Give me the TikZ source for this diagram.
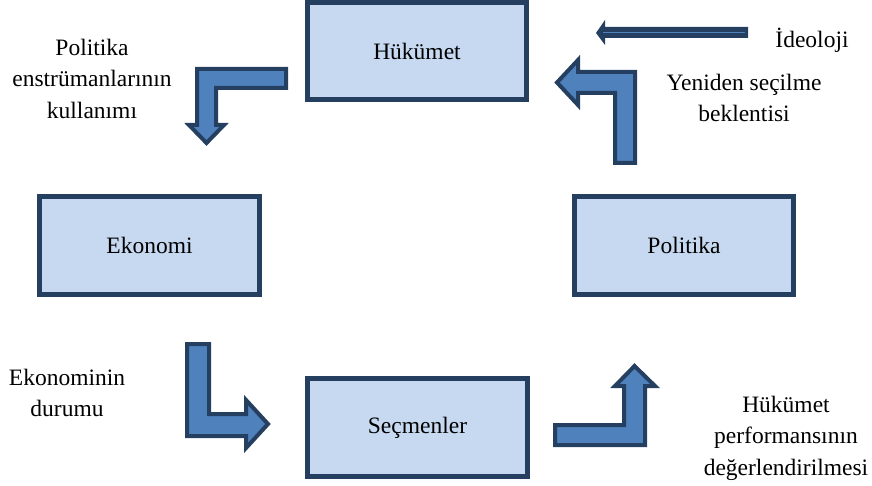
\documentclass[tikz,border=0pt]{standalone}
\usepackage{fontspec}
\setmainfont{Liberation Serif}
\newfontfamily\timesface{Liberation Serif}
\usepackage{tikz}
\usetikzlibrary{positioning, calc}
\definecolor{boxfill}{HTML}{C6D9F1}
\definecolor{navy}{HTML}{243F60}
\definecolor{arrowblue}{HTML}{4F81BD}
\tikzset{
  box/.style={
    rectangle, draw=navy, fill=boxfill, line width=5pt,
    minimum width=219pt, minimum height=97pt, inner sep=0pt,
    align=center, font=\timesface\fontsize{23.5}{31.5}\selectfont
  },
  lbl/.style={
    align=center, inner sep=0pt,
    font=\timesface\fontsize{23.5}{31.5}\selectfont
  },
  blockarrow/.style={
    draw=navy, fill=arrowblue, line width=4pt, line join=miter
  }
}
\begin{document}
\begin{tikzpicture}[x=1pt, y=-1pt]
        \useasboundingbox (0,0) rectangle (872,486);
        % Boxes
        \node[box] (gov) at (417,51) {Hükümet};
        \node[box, minimum width=220pt, minimum height=98pt] (eco) at (149.5,245.5) {Ekonomi};
        \node[box, minimum height=98pt] (pol) at (684,245.5) {Politika};
        \node[box, minimum width=220pt, minimum height=98pt] (voters) at (417.5,427.5) {Seçmenler};
        % Labels
        \node[lbl] (instr) at (92,78.5)
          {Politika\\enstrümanlarının\\kullanımı};
        \node[lbl] (ideo) at (812,40) {İdeoloji};
        \node[lbl] (reelect) at (744,98)
          {Yeniden seçilme\\beklentisi};
        \node[lbl] (state) at (67,393)
          {Ekonominin\\durumu};
        \node[lbl] (perf) at (786,438)
          {Hükümet\\performansının\\değerlendirilmesi};
        % Hükümet -> Ekonomi
        \draw[blockarrow] (286,69) -- (197,69) -- (197,125) -- (189,125)
          -- (206.5,143) -- (224,125) -- (216,125) -- (216,88) -- (286,88) -- cycle;
        % Politika -> Hükümet
        \draw[blockarrow] (615,163) -- (635,163) -- (635,72) -- (578,72)
          -- (578,60) -- (557,82.5) -- (578,105) -- (578,93) -- (615,93) -- cycle;
        % Ekonomi -> Seçmenler
        \draw[blockarrow] (187,344) -- (209,344) -- (209,414) -- (246,414)
          -- (246,400) -- (268,424) -- (246,448) -- (246,436) -- (187,436) -- cycle;
        % Seçmenler -> Politika
        \draw[blockarrow] (555,425) -- (624,425) -- (624,386) -- (615,386)
          -- (634.5,366) -- (655,386) -- (645,386) -- (645,445) -- (555,445) -- cycle;
        % Ideoloji
        \fill[navy] (748,27) -- (605,27) -- (605,20) -- (596,33)
          -- (605,45) -- (605,38) -- (748,38) -- cycle;
        \draw[arrowblue, line width=0.8pt] (603,32.5) -- (745,32.5);
      \end{tikzpicture}
\end{document}
